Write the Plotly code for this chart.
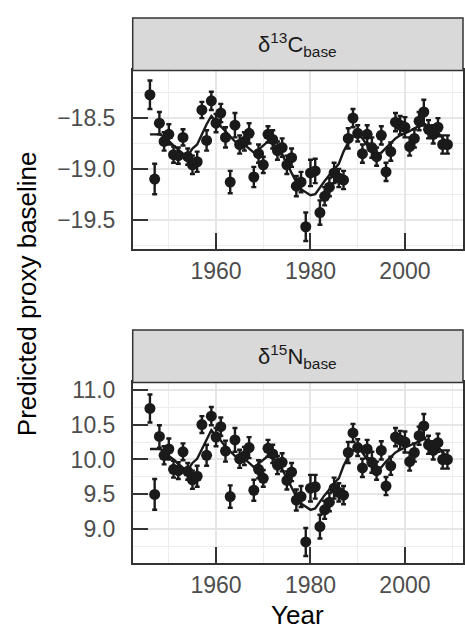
import plotly.graph_objects as go

# Sampling years and per-year predictions with standard errors
years = list(range(1946, 2010))

c13_mean = [-18.27, -19.10, -18.55, -18.73, -18.66, -18.86, -18.87, -18.69, -18.88, -18.96,
            -18.93, -18.42, -18.72, -18.33, -18.55, -18.45, -18.69, -19.13, -18.57, -18.76,
            -18.73, -18.65, -19.08, -18.85, -18.96, -18.66, -18.71, -18.82, -18.79, -18.96,
            -18.89, -19.17, -19.13, -19.57, -19.04, -19.02, -19.43, -19.27, -19.18, -19.04,
            -19.09, -19.11, -18.70, -18.50, -18.65, -18.85, -18.66, -18.79, -18.88, -18.67,
            -19.03, -18.83, -18.54, -18.57, -18.59, -18.78, -18.70, -18.53, -18.44, -18.61,
            -18.66, -18.59, -18.76, -18.76]
c13_se = [0.14, 0.15, 0.11, 0.09, 0.10, 0.08, 0.08, 0.08, 0.08, 0.09,
          0.10, 0.08, 0.10, 0.09, 0.09, 0.09, 0.10, 0.11, 0.12, 0.09,
          0.09, 0.10, 0.10, 0.09, 0.08, 0.08, 0.09, 0.09, 0.09, 0.09,
          0.09, 0.10, 0.10, 0.14, 0.13, 0.12, 0.12, 0.09, 0.09, 0.10,
          0.09, 0.09, 0.10, 0.09, 0.08, 0.09, 0.09, 0.10, 0.09, 0.09,
          0.09, 0.09, 0.09, 0.09, 0.10, 0.09, 0.09, 0.09, 0.12, 0.09,
          0.09, 0.09, 0.09, 0.09]
c13_trend = [-18.66, -18.66, -18.66, -18.68, -18.73, -18.77, -18.81, -18.85, -18.87, -18.80,
             -18.76, -18.66, -18.56, -18.48, -18.53, -18.58, -18.64, -18.69, -18.73, -18.74,
             -18.76, -18.80, -18.84, -18.81, -18.77, -18.73, -18.75, -18.79, -18.86, -18.95,
             -19.05, -19.13, -19.20, -19.23, -19.26, -19.25, -19.18, -19.12, -19.06, -19.00,
             -18.95, -18.83, -18.74, -18.68, -18.65, -18.70, -18.77, -18.82, -18.86, -18.84,
             -18.79, -18.74, -18.70, -18.67, -18.65, -18.63, -18.60, -18.58, -18.57, -18.58,
             -18.60, -18.64, -18.70, -18.73]

n15_mean = [10.73, 9.50, 10.33, 10.06, 10.15, 9.86, 9.84, 10.11, 9.83, 9.71,
            9.76, 10.50, 10.06, 10.62, 10.32, 10.47, 10.12, 9.47, 10.28, 10.01,
            10.05, 10.17, 9.56, 9.86, 9.73, 10.16, 10.08, 9.92, 9.96, 9.70,
            9.82, 9.42, 9.47, 8.82, 9.59, 9.61, 9.04, 9.28, 9.39, 9.59,
            9.53, 9.49, 10.10, 10.38, 10.17, 9.88, 10.15, 9.96, 9.84, 10.13,
            9.62, 9.91, 10.32, 10.28, 10.25, 9.97, 10.10, 10.34, 10.48, 10.21,
            10.13, 10.24, 10.00, 10.00]
n15_se = [0.20, 0.22, 0.16, 0.13, 0.15, 0.12, 0.12, 0.12, 0.12, 0.13,
          0.15, 0.12, 0.15, 0.13, 0.13, 0.13, 0.15, 0.16, 0.17, 0.13,
          0.13, 0.15, 0.15, 0.13, 0.12, 0.12, 0.13, 0.13, 0.13, 0.13,
          0.13, 0.15, 0.15, 0.20, 0.19, 0.17, 0.17, 0.13, 0.13, 0.15,
          0.13, 0.13, 0.15, 0.13, 0.12, 0.13, 0.13, 0.15, 0.13, 0.13,
          0.13, 0.13, 0.13, 0.13, 0.15, 0.13, 0.13, 0.13, 0.17, 0.13,
          0.13, 0.13, 0.13, 0.13]
n15_trend = [10.15, 10.15, 10.15, 10.13, 10.05, 10.00, 9.94, 9.88, 9.85, 9.95,
             10.01, 10.15, 10.30, 10.42, 10.34, 10.27, 10.18, 10.11, 10.05, 10.04,
             10.01, 9.95, 9.89, 9.94, 10.00, 10.05, 10.02, 9.97, 9.86, 9.73,
             9.59, 9.47, 9.37, 9.33, 9.28, 9.30, 9.40, 9.49, 9.57, 9.66,
             9.73, 9.91, 10.04, 10.13, 10.17, 10.10, 10.00, 9.92, 9.86, 9.89,
             9.97, 10.04, 10.10, 10.14, 10.17, 10.20, 10.24, 10.27, 10.29, 10.27,
             10.24, 10.18, 10.10, 10.05]

x_ticks = [1960, 1980, 2000]
c13_ticks = [-18.5, -19.0, -19.5]
c13_labels = ["\u221218.5", "\u221219.0", "\u221219.5"]
n15_ticks = [11.0, 10.5, 10.0, 9.5, 9.0]
n15_labels = ["11.0", "10.5", "10.0", "9.5", "9.0"]

INK = "#1a1a1a"
FONT = "Liberation Sans, Arial, sans-serif"

fig = go.Figure()

panels = [
    ("x", "y", c13_mean, c13_se, c13_trend),
    ("x2", "y2", n15_mean, n15_se, n15_trend),
]
for xa, ya, mean, se, trend in panels:
    fig.add_trace(go.Scatter(
        x=years, y=trend, xaxis=xa, yaxis=ya, mode="lines",
        line=dict(color=INK, width=2.4), hoverinfo="skip", showlegend=False))
    fig.add_trace(go.Scatter(
        x=years, y=mean, xaxis=xa, yaxis=ya, mode="markers",
        marker=dict(color=INK, size=11),
        error_y=dict(type="data", array=se, visible=True, color=INK,
                     thickness=2.4, width=2.5),
        showlegend=False))

x_dom = [133 / 465, 464 / 465]
top_dom = [(631 - 245) / 631, (631 - 65) / 631]
bot_dom = [(631 - 562) / 631, (631 - 380) / 631]

common_x = dict(
    domain=x_dom, range=[1942.35, 2012.3], tickvals=x_ticks,
    ticks="inside", ticklen=16, tickwidth=2, tickcolor="#333333",
    showgrid=True, gridcolor="#e6e6e6", gridwidth=1.5,
    minor=dict(dtick=10, tick0=1950, showgrid=True, gridcolor="#ececec", gridwidth=1),
    showline=True, linecolor="#333333", linewidth=1.5, mirror=True,
    zeroline=False, ticklabelstandoff=1,
    tickfont=dict(family=FONT, size=23, color="#4d4d4d"),
)
common_y = dict(
    ticks="inside", ticklen=16, tickwidth=2, tickcolor="#333333",
    showgrid=True, gridcolor="#e6e6e6", gridwidth=1.5,
    showline=True, linecolor="#333333", linewidth=1.5, mirror=True,
    zeroline=False, ticklabelstandoff=11,
    tickfont=dict(family=FONT, size=23, color="#4d4d4d"),
)

fig.update_layout(
    width=465, height=631,
    margin=dict(l=0, r=0, t=0, b=0),
    paper_bgcolor="white", plot_bgcolor="white",
    font=dict(family=FONT, color="black"),
    xaxis=dict(anchor="y", **common_x),
    xaxis2=dict(anchor="y2", **common_x),
    yaxis=dict(anchor="x", domain=top_dom, range=[-19.786, -18.03],
               tickvals=c13_ticks, ticktext=c13_labels,
               minor=dict(dtick=0.5, tick0=-18.25, showgrid=True,
                          gridcolor="#ececec", gridwidth=1),
               **common_y),
    yaxis2=dict(anchor="x2", domain=bot_dom, range=[8.524, 11.103],
                tickvals=n15_ticks, ticktext=n15_labels,
                minor=dict(dtick=0.5, tick0=8.75, showgrid=True,
                           gridcolor="#ececec", gridwidth=1),
                **common_y),
)

# Facet strips above each panel
strips = [
    ((631 - 65) / 631, (631 - 12) / 631, "\u03b4<sup>13</sup>C<sub>base</sub>"),
    ((631 - 380) / 631, (631 - 327) / 631, "\u03b4<sup>15</sup>N<sub>base</sub>"),
]
for y0, y1, label in strips:
    fig.add_shape(type="rect", xref="paper", yref="paper",
                  x0=x_dom[0], x1=x_dom[1], y0=y0, y1=y1,
                  fillcolor="#d9d9d9", line=dict(color="#333333", width=1.5),
                  layer="above")
    fig.add_annotation(xref="paper", yref="paper", x=sum(x_dom) / 2, y=(y0 + y1) / 2,
                       xanchor="center", yanchor="middle",
                       text=label, showarrow=False,
                       font=dict(family=FONT, size=22, color="#1a1a1a"))

fig.add_annotation(xref="paper", yref="paper", x=sum(x_dom) / 2, y=(631 - 615) / 631,
                   xanchor="center", yanchor="middle",
                   text="Year", showarrow=False,
                   font=dict(family=FONT, size=26, color="black"))
fig.add_annotation(xref="paper", yref="paper", x=27 / 465, y=(631 - 290) / 631,
                   xanchor="center", yanchor="middle",
                   text="Predicted proxy baseline", showarrow=False, textangle=-90,
                   font=dict(family=FONT, size=26, color="black"))

fig.write_html("out.html")
